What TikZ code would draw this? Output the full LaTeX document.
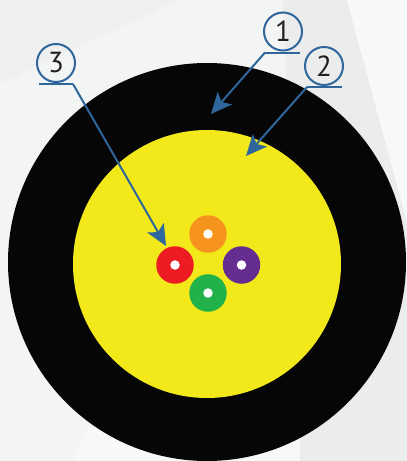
\documentclass[tikz,border=0pt]{standalone}
\usepackage{fontspec}
\setmainfont{PT Sans}
\usetikzlibrary{arrows.meta}
\definecolor{bgbase}{HTML}{F3F4F4}
\definecolor{bgdark}{HTML}{EBECEC}
\definecolor{bglight}{HTML}{F7F8F8}
\definecolor{ringblack}{HTML}{060606}
\definecolor{coreyellow}{HTML}{F2E81A}
\definecolor{fiorange}{HTML}{F7941D}
\definecolor{fired}{HTML}{ED1C24}
\definecolor{fipurple}{HTML}{662D91}
\definecolor{figreen}{HTML}{21B24B}
\definecolor{callblue}{HTML}{2F669B}
\definecolor{digitgray}{HTML}{231F20}
\tikzset{
  callout/.style={circle, draw=callblue, line width=2pt, minimum size=38pt, inner sep=0pt,
    text=digitgray, font=\fontsize{29}{29}\selectfont},
  underline/.style={draw=callblue, line width=2pt},
  pointer/.style={draw=callblue, line width=2pt,
    -{Stealth[length=21pt, width=19pt, inset=5pt]}},
  fiber/.style={circle, minimum size=37.5pt, inner sep=0pt},
  hole/.style={circle, fill=white, minimum size=9.5pt, inner sep=0pt}
}
\begin{document}
\begin{tikzpicture}[x=1pt, y=-1pt]
\useasboundingbox (0,0) rectangle (407,461);
% background
\fill[bgbase] (0,0) rectangle (407,461);
\fill[bgdark] (283,0) -- (347,0) -- (407,222) -- (407,461) -- (300,461) -- cycle;
\fill[bglight] (347,0) -- (407,0) -- (407,222) -- cycle;
\fill[bgdark!60!bgbase] (0,0) -- (178,0) -- (0,83) -- cycle;
\fill[bglight] (73,461) -- (88,427) -- (300,427) -- (300,461) -- cycle;
% cable
\fill[ringblack] (207,262) circle[radius=199];
\fill[coreyellow] (207,264) circle[radius=134];
% fibers
\node[fiber, fill=fiorange] (fo) at (208,234) {};
\node[fiber, fill=fired] (fr) at (175,265) {};
\node[fiber, fill=fipurple] (fp) at (241.5,265) {};
\node[fiber, fill=figreen] (fg) at (208,293) {};
\foreach \f in {fo,fr,fp,fg} \node[hole] at (\f) {};
% callouts
\node[callout] (c1) at (283,31.5) {1};
\node[callout] (c2) at (324,66) {2};
\node[callout] (c3) at (56,63) {3};
\coordinate (u1a) at (265,52.5);
\coordinate (u1b) at (300,52.5);
\coordinate (u2a) at (307,87);
\coordinate (u2b) at (342,87);
\coordinate (u3a) at (39,84);
\coordinate (u3b) at (73,84);
\draw[underline] (u1a) -- (u1b);
\draw[underline] (u2a) -- (u2b);
\draw[underline] (u3a) -- (u3b);
\coordinate (t1) at (211,114);
\coordinate (t2) at (246,156);
\coordinate (t3) at (166,246);
\draw[pointer] (u1a) -- (t1);
\draw[pointer] (u2a) -- (t2);
\draw[pointer] (u3b) -- (t3);
\end{tikzpicture}
\end{document}
